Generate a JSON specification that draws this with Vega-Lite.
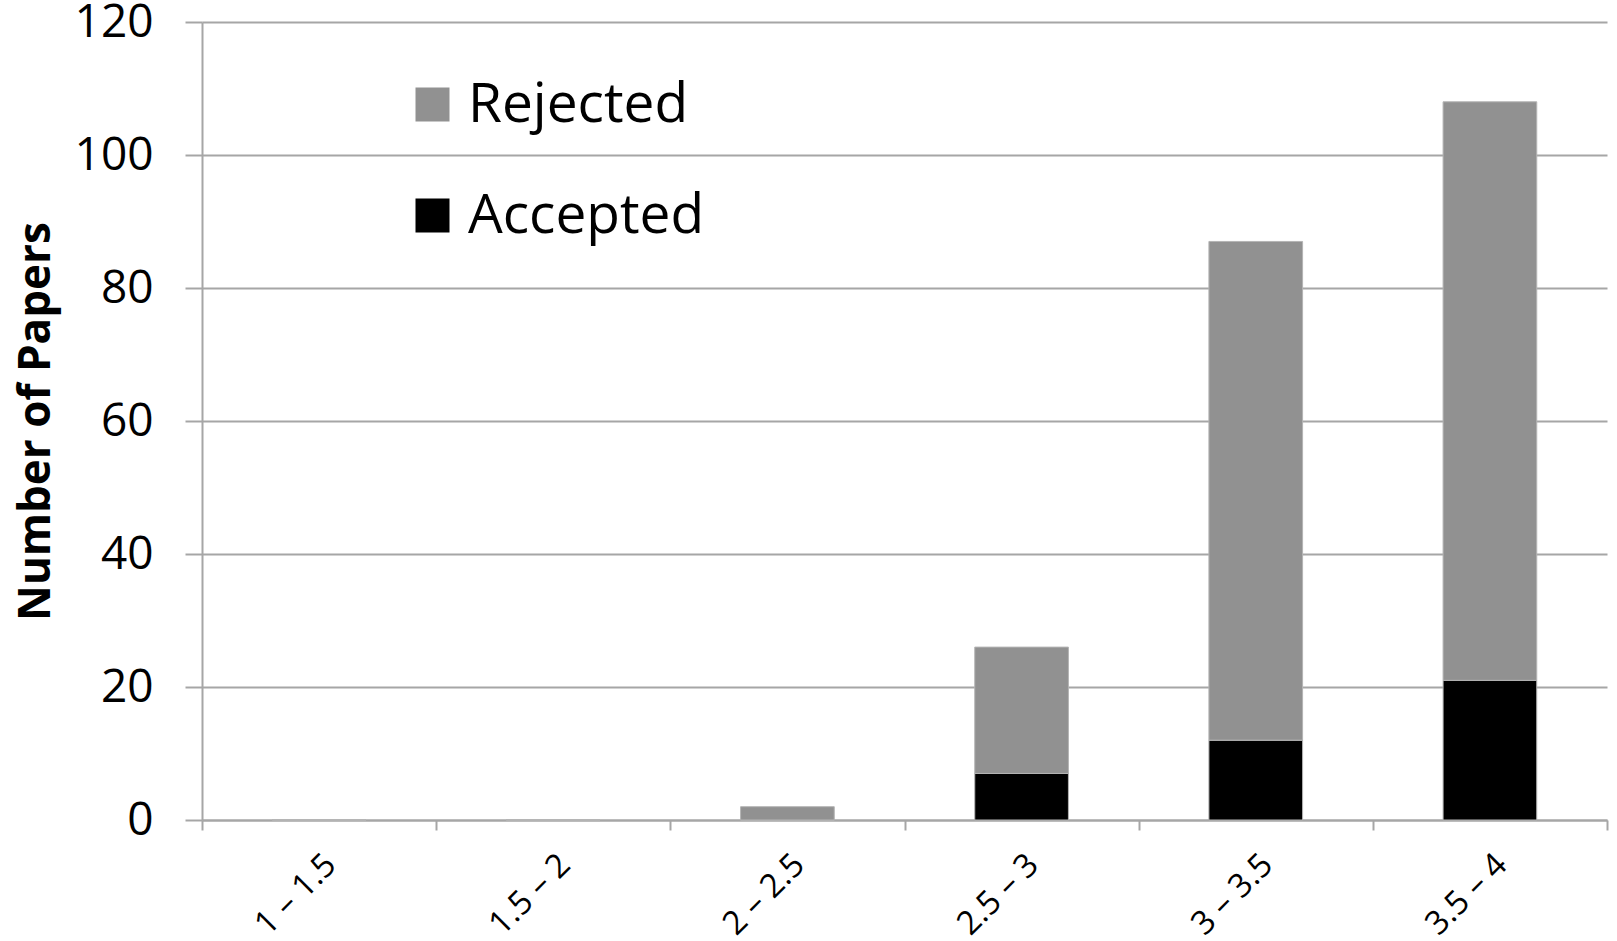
{
  "$schema": "https://vega.github.io/schema/vega-lite/v6.json",
  "width": 1405,
  "height": 798,
  "autosize": {"type": "none"},
  "padding": {"left": 202, "top": 22, "right": 10, "bottom": 121},
  "background": "white",
  "data": {
    "values": [
      {"range": "1 – 1.5", "status": "Accepted", "papers": 0},
      {"range": "1 – 1.5", "status": "Rejected", "papers": 0},
      {"range": "1.5 – 2", "status": "Accepted", "papers": 0},
      {"range": "1.5 – 2", "status": "Rejected", "papers": 0},
      {"range": "2 – 2.5", "status": "Accepted", "papers": 0},
      {"range": "2 – 2.5", "status": "Rejected", "papers": 2},
      {"range": "2.5 – 3", "status": "Accepted", "papers": 7},
      {"range": "2.5 – 3", "status": "Rejected", "papers": 19},
      {"range": "3 – 3.5", "status": "Accepted", "papers": 12},
      {"range": "3 – 3.5", "status": "Rejected", "papers": 75},
      {"range": "3.5 – 4", "status": "Accepted", "papers": 21},
      {"range": "3.5 – 4", "status": "Rejected", "papers": 87}
    ]
  },
  "mark": {"type": "bar", "stroke": "#b4b4b4", "strokeWidth": 1, "width": {"band": 0.4}},
  "encoding": {
    "x": {
      "field": "range",
      "type": "nominal",
      "sort": null,
      "scale": {"paddingInner": 0, "paddingOuter": 0},
      "axis": {
        "title": null,
        "labelAngle": -45,
        "labelFont": "Open Sans",
        "labelFontSize": 33,
        "labelColor": "black",
        "labelPadding": 18,
        "labelLimit": 300,
        "labelBound": false,
        "tickBand": "extent",
        "tickSize": 10,
        "tickColor": "#a6a6a6",
        "tickWidth": 2,
        "domainColor": "#a6a6a6",
        "domainWidth": 2,
        "grid": false
      }
    },
    "y": {
      "field": "papers",
      "type": "quantitative",
      "stack": "zero",
      "scale": {"domain": [0, 120], "nice": false},
      "axis": {
        "title": "Number of Papers",
        "titleFont": "Open Sans",
        "titleFontSize": 44,
        "titleFontWeight": "bold",
        "titleColor": "black",
        "titlePadding": 16,
        "values": [0, 20, 40, 60, 80, 100, 120],
        "labelFont": "Open Sans",
        "labelFontSize": 46,
        "labelColor": "black",
        "labelPadding": 32,
        "tickSize": 17,
        "tickColor": "#a6a6a6",
        "tickWidth": 2,
        "domainColor": "#a6a6a6",
        "domainWidth": 2,
        "gridColor": "#a6a6a6",
        "gridWidth": 2
      }
    },
    "color": {
      "field": "status",
      "type": "nominal",
      "scale": {"domain": ["Rejected", "Accepted"], "range": ["#919191", "#000000"]},
      "legend": {
        "title": null,
        "orient": "none",
        "legendX": 193,
        "legendY": 45,
        "symbolType": "square",
        "symbolSize": 1156,
        "symbolStrokeWidth": 0,
        "symbolOpacity": 1,
        "labelFont": "Open Sans",
        "labelFontSize": 55,
        "labelColor": "black",
        "labelOffset": 8,
        "labelLimit": 500,
        "rowPadding": 55,
        "padding": 10
      }
    },
    "order": {"field": "status", "sort": "ascending"}
  },
  "config": {"view": {"stroke": null}}
}
